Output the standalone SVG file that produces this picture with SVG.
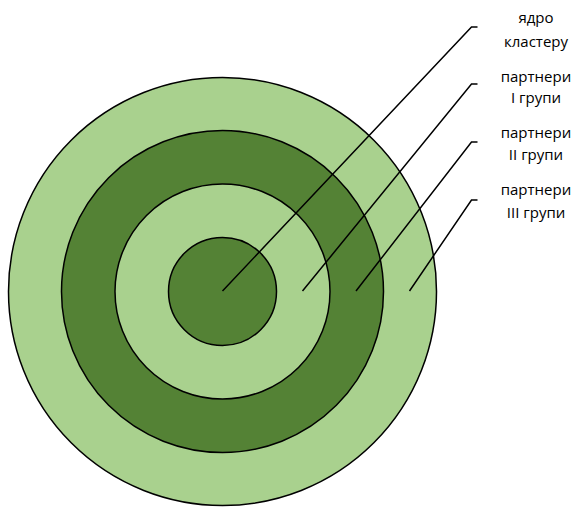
<svg xmlns="http://www.w3.org/2000/svg" width="576" height="509" viewBox="0 0 576 509">
<style>
.ring{stroke:#000;stroke-width:1.5}
.light{fill:#A9D18E}
.dark{fill:#548235}
.lead{fill:none;stroke:#000;stroke-width:1.5}
.lbl{font-family:"Open Sans","Liberation Sans",sans-serif;font-size:15px;fill:#000;text-anchor:middle}
</style>
<rect width="576" height="509" fill="#fff"/>
<g id="ring-partners-3"><circle class="ring light" cx="222.5" cy="291.5" r="214"/></g>
<g id="ring-partners-2"><circle class="ring dark" cx="222.5" cy="291.5" r="161"/></g>
<g id="ring-partners-1"><circle class="ring light" cx="222.5" cy="291.5" r="107.5"/></g>
<g id="cluster-core"><circle class="ring dark" cx="222.5" cy="291.5" r="54"/></g>
<g id="connectors">
<polyline class="lead" points="222.5,291 471.5,27 477.5,27"/>
<polyline class="lead" points="302.5,291 471.5,84 477.5,84"/>
<polyline class="lead" points="356,291 471.5,142 477.5,142"/>
<polyline class="lead" points="409.5,291 471.5,200 477.5,200"/>
</g>
<g id="label-core"><text class="lbl" x="536" y="23">ядро</text><text class="lbl" x="536" y="47">кластеру</text></g>
<g id="label-1"><text class="lbl" x="536" y="82">партнери</text><text class="lbl" x="536" y="103">I групи</text></g>
<g id="label-2"><text class="lbl" x="536" y="138">партнери</text><text class="lbl" x="536" y="160">II групи</text></g>
<g id="label-3"><text class="lbl" x="536" y="195">партнери</text><text class="lbl" x="536" y="218">III групи</text></g>
</svg>
